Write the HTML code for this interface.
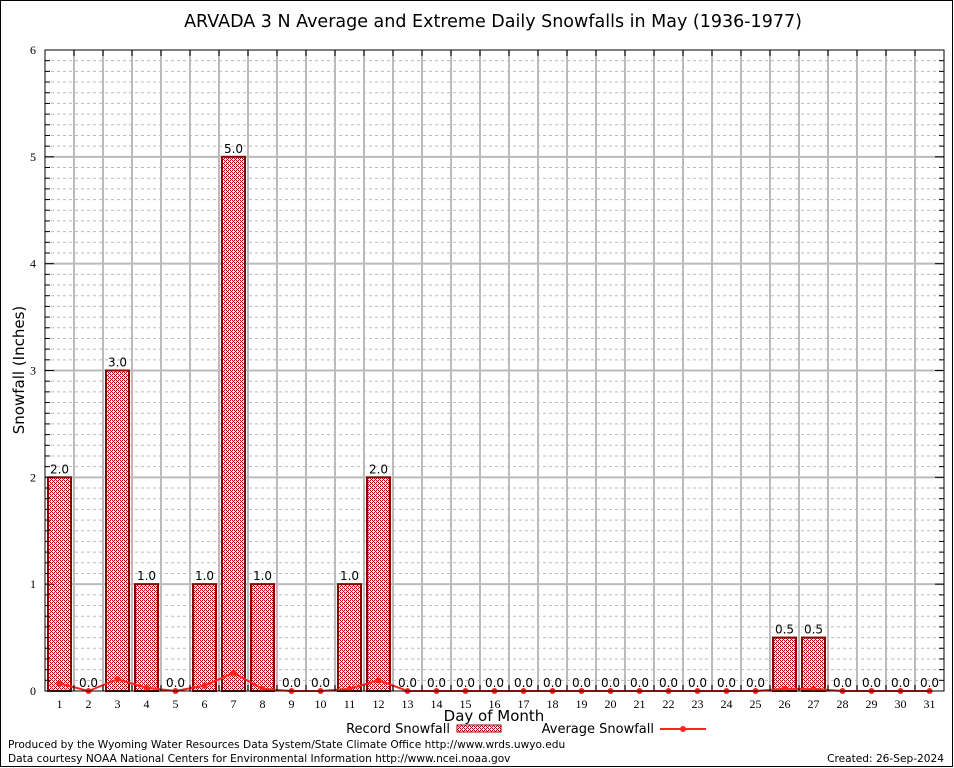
<!DOCTYPE html>
<html><head><meta charset="utf-8"><style>
body{margin:0;background:#fff;}
svg{display:block;font-family:"DejaVu Sans","Liberation Sans",sans-serif;}
</style></head><body>
<svg id="chart" width="954" height="768" viewBox="0 0 954 768" xmlns="http://www.w3.org/2000/svg">
<defs>
<pattern id="hatch" width="4" height="4" patternUnits="userSpaceOnUse">
<rect width="4" height="4" fill="#fff"/>
<rect x="0" y="0" width="1" height="1" fill="#b00000"/>
<rect x="2" y="0" width="1" height="1" fill="#b00000"/>
<rect x="1" y="1" width="1" height="1" fill="#b00000"/>
<rect x="0" y="2" width="1" height="1" fill="#b00000"/>
<rect x="2" y="2" width="1" height="1" fill="#b00000"/>
<rect x="3" y="3" width="1" height="1" fill="#b00000"/>
</pattern>
</defs>
<rect x="0.5" y="0.5" width="952" height="766" fill="#fff" stroke="#000"/>
<text x="493" y="27" font-size="17.5" text-anchor="middle">ARVADA 3 N Average and Extreme Daily Snowfalls in May (1936-1977)</text>
<g id="grid"></g>
<g id="bars"></g>
<g id="avg"></g>
<rect x="45" y="50" width="899" height="641" fill="none" stroke="#000" stroke-width="1"/>
<g id="axes"></g>
<text x="24" y="370" font-size="15" text-anchor="middle" transform="rotate(-90 24 370)">Snowfall (Inches)</text>
<text x="494" y="721" font-size="15" text-anchor="middle">Day of Month</text>
<g>
<text x="450" y="733" font-size="13" text-anchor="end">Record Snowfall</text>
<rect x="457" y="725" width="44" height="7" fill="url(#hatch)" stroke="#8b0000"/>
</g>
<g>
<text x="654" y="733" font-size="13" text-anchor="end">Average Snowfall</text>
<line x1="660" y1="729" x2="706" y2="729" stroke="#f22" stroke-width="2"/>
<circle cx="683" cy="729" r="3" fill="#f22"/>
</g>
<text x="8" y="748" font-size="10.6">Produced by the Wyoming Water Resources Data System/State Climate Office http://www.wrds.uwyo.edu</text>
<text x="8" y="762" font-size="10.6">Data courtesy NOAA National Centers for Environmental Information http://www.ncei.noaa.gov</text>
<text x="944" y="762" font-size="10.6" text-anchor="end">Created: 26-Sep-2024</text>
</svg>
<script>
const days=[1,2,3,4,5,6,7,8,9,10,11,12,13,14,15,16,17,18,19,20,21,22,23,24,25,26,27,28,29,30,31];
const recordSnow=[2.0,0,3.0,1.0,0,1.0,5.0,1.0,0,0,1.0,2.0,0,0,0,0,0,0,0,0,0,0,0,0,0,0.5,0.5,0,0,0,0];
const avgSnow=[0.07,0,0.11,0.03,0,0.05,0.17,0.02,0,0,0.02,0.1,0,0,0,0,0,0,0,0,0,0,0,0,0,0.02,0.02,0,0,0,0];
const yTicks=[0,1,2,3,4,5,6];
const NS='http://www.w3.org/2000/svg';
const L=45,R=944,T=50,B=691,ymax=6;
const bw=(R-L)/days.length;
const xs=i=>L+(i+0.5)*bw;
const ys=v=>B-v/ymax*(B-T);
function mk(tag,attrs,parent){const e=document.createElementNS(NS,tag);for(const k in attrs)e.setAttribute(k,attrs[k]);parent.appendChild(e);return e;}
const grid=document.getElementById('grid'),bars=document.getElementById('bars'),avg=document.getElementById('avg'),axes=document.getElementById('axes');
for(let m=1;m<ymax*10;m++){if(m%10===0)continue;const y=ys(m/10);
const l=mk('line',{x1:L,x2:R,y1:y,y2:y,stroke:'#bbb','stroke-dasharray':'3,3'},grid);


mk('line',{x1:L,x2:L+5,y1:y,y2:y,stroke:'#000'},axes);
mk('line',{x1:R-5,x2:R,y1:y,y2:y,stroke:'#000'},axes);}
yTicks.forEach(v=>{const y=ys(v);
if(v>0&&v<ymax){const l=mk('line',{x1:L,x2:R,y1:y,y2:y,stroke:'#bbb','stroke-width':2},grid);

}
mk('line',{x1:L,x2:L+9,y1:y,y2:y,stroke:'#000'},axes);
mk('line',{x1:R-9,x2:R,y1:y,y2:y,stroke:'#000'},axes);
const t=mk('text',{x:36,y:y+4,'font-size':12,'text-anchor':'end','font-family':'Liberation Serif,serif'},axes);t.textContent=v;

});
for(let i=1;i<days.length;i++){const x=L+i*bw;
const l=mk('line',{x1:x,x2:x,y1:T,y2:B,stroke:'#bbb','stroke-width':2},grid);


mk('line',{x1:x,x2:x,y1:T,y2:T+6,stroke:'#000'},axes);
mk('line',{x1:x,x2:x,y1:B-6,y2:B,stroke:'#000'},axes);}
days.forEach((d,i)=>{const x=xs(i);
const t=mk('text',{x:x,y:708,'font-size':12,'text-anchor':'middle','font-family':'Liberation Serif,serif'},axes);t.textContent=d;


const v=recordSnow[i];
if(v>0){const r=mk('rect',{x:x-11.5,y:ys(v),width:23,height:B-ys(v),fill:'url(#hatch)',stroke:'#8b0000','stroke-width':2},bars);

}
const lb=mk('text',{x:x,y:ys(v)-4,'font-size':12,'text-anchor':'middle'},bars);lb.textContent=v.toFixed(1);

});
const pts=avgSnow.map((v,i)=>xs(i)+','+ys(v)).join(' ');
const pl=mk('polyline',{points:pts,fill:'none',stroke:'#f22','stroke-width':2},avg);


avgSnow.forEach((v,i)=>{const c=mk('circle',{cx:xs(i),cy:ys(v),r:3,fill:'#f22'},avg);

});
</script>
</body></html>
